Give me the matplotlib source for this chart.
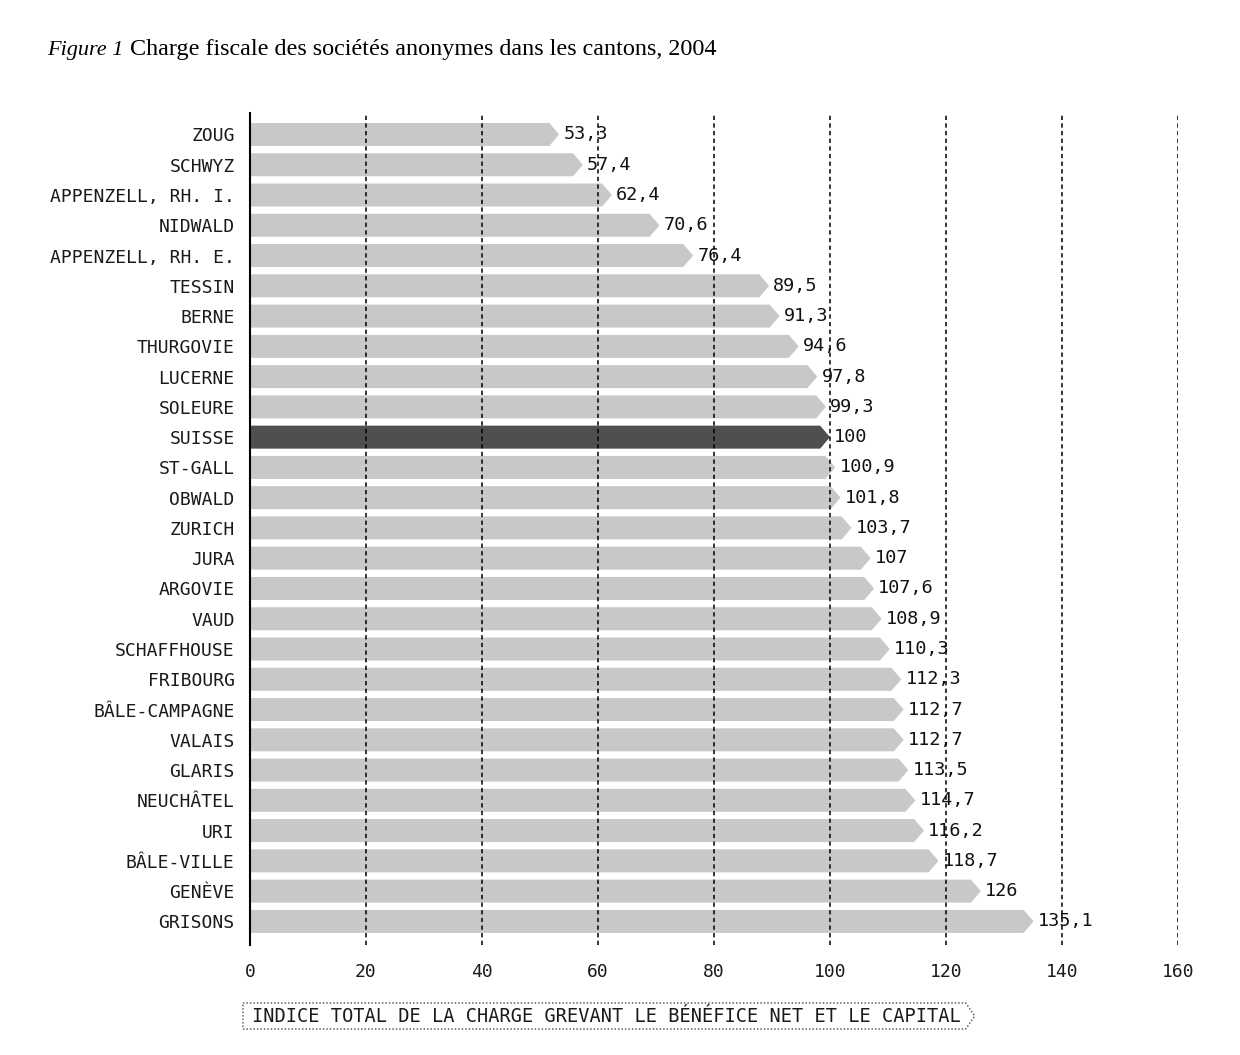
import matplotlib
matplotlib.use("Agg")
import matplotlib.pyplot as plt
from matplotlib.patches import Polygon
from matplotlib.lines import Line2D

cantons = [
    "ZOUG", "SCHWYZ", "APPENZELL, RH. I.", "NIDWALD", "APPENZELL, RH. E.",
    "TESSIN", "BERNE", "THURGOVIE", "LUCERNE", "SOLEURE", "SUISSE",
    "ST-GALL", "OBWALD", "ZURICH", "JURA", "ARGOVIE", "VAUD", "SCHAFFHOUSE",
    "FRIBOURG", "BÂLE-CAMPAGNE", "VALAIS", "GLARIS", "NEUCHÂTEL", "URI",
    "BÂLE-VILLE", "GENÈVE", "GRISONS",
]
indices = [
    53.3, 57.4, 62.4, 70.6, 76.4, 89.5, 91.3, 94.6, 97.8, 99.3, 100,
    100.9, 101.8, 103.7, 107, 107.6, 108.9, 110.3, 112.3, 112.7, 112.7,
    113.5, 114.7, 116.2, 118.7, 126, 135.1,
]
value_labels = [f"{v:g}".replace(".", ",") for v in indices]
highlight = "SUISSE"
xticks = list(range(0, 161, 20))

MONO = "DejaVu Sans Mono"
LIGHT = "#c7c8c9"
DARK = "#4f4f4f"

fig = plt.figure(figsize=(12.4, 10.55), dpi=100)
ax = fig.add_axes([250 / 1240, 1 - 945 / 1055, 928 / 1240, 832 / 1055])

bar_h = 0.76
tip = 1.7
for i, (name, v) in enumerate(zip(cantons, indices)):
    y0, y1 = i - bar_h / 2, i + bar_h / 2
    verts = [(0, y0), (v - tip, y0), (v, i), (v - tip, y1), (0, y1)]
    color = DARK if name == highlight else LIGHT
    ax.add_patch(Polygon(verts, closed=True, facecolor=color, edgecolor="none", zorder=1))
    ax.annotate(value_labels[i], xy=(v, i), xytext=(3, 0), textcoords="offset points",
                ha="left", va="center", fontsize=13.3, family=MONO, color="#111111", zorder=4)

ax.set_xlim(0, 160)
ax.set_ylim(26.78, -0.71)
ax.set_yticks(range(len(cantons)))
ax.set_yticklabels(cantons, family=MONO, fontsize=13, color="#1a1a1a")
ax.set_xticks(xticks)
ax.set_xticklabels([str(t) for t in xticks], family=MONO, fontsize=13, color="#1a1a1a")
ax.tick_params(axis="both", length=0)
ax.tick_params(axis="y", pad=11)
ax.tick_params(axis="x", pad=13)

for t in xticks[1:]:
    ax.axvline(t, color="black", lw=1.1, linestyle=(0, (2.8, 2.2)), zorder=3)

for side in ("top", "right", "bottom"):
    ax.spines[side].set_visible(False)
ax.spines["left"].set_linewidth(1.5)
ax.spines["left"].set_color("black")

# titre
fig.text(47 / 1240, 1 - 55 / 1055, "Figure 1", family="Liberation Serif", style="italic",
         fontsize=16, va="baseline", ha="left")
fig.text(130 / 1240, 1 - 55 / 1055, "Charge fiscale des sociétés anonymes dans les cantons, 2004",
         family="Liberation Serif", fontsize=17.4, va="baseline", ha="left")

# titre de l'axe dans une flèche pointillée
xl = fig.text(252 / 1240, 1 - 1016 / 1055,
              "INDICE TOTAL DE LA CHARGE GREVANT LE BÉNÉFICE NET ET LE CAPITAL",
              family=MONO, fontsize=13.4, ha="left", va="center", color="#1a1a1a")
fig.canvas.draw()
bb = xl.get_window_extent()
W, H = fig.bbox.width, fig.bbox.height
cy = (bb.y0 + bb.y1) / 2
left, right, half = bb.x0 - 9, bb.x1 + 5, 13
pts = [(left, cy + half), (right, cy + half), (right + 9, cy), (right, cy - half),
       (left, cy - half), (left, cy + half)]
fig.add_artist(Line2D([p[0] / W for p in pts], [p[1] / H for p in pts],
                      transform=fig.transFigure, color="#444444", lw=1.0,
                      linestyle=(0, (1, 1.5))))

fig.savefig("out.png", dpi=100, facecolor="white")
